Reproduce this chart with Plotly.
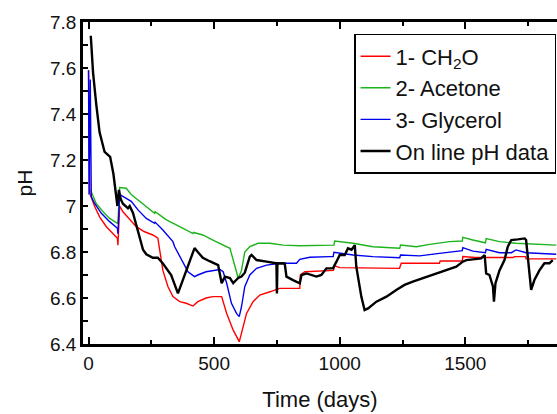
import plotly.graph_objects as go

# ---- data ----
black_days = [9, 18, 31, 44, 64, 86, 99, 112, 115, 121, 128, 137, 157, 164, 177, 217, 230, 256, 276, 296,
              316, 329, 356, 422, 435, 455, 482, 516, 530, 543, 563, 576, 596, 609, 622, 642, 649, 669, 709,
              748, 750, 752, 781, 788, 814, 841, 848, 868, 907, 927, 947, 973, 987, 1000, 1020, 1033, 1047,
              1060, 1066, 1073, 1086, 1099, 1113, 1146, 1186, 1225, 1258, 1291, 1331, 1371, 1411, 1437, 1464,
              1490, 1504, 1530, 1563, 1577, 1583, 1596, 1610, 1614, 1620, 1636, 1656, 1669, 1683, 1709, 1736,
              1742, 1753, 1762, 1775, 1795, 1815, 1835, 1848]
black_ph = [7.74, 7.58, 7.44, 7.32, 7.235, 7.214, 7.14, 7.04, 7.0, 7.07, 7.03, 7.01, 6.99, 7.0, 6.97, 6.81,
            6.79, 6.775, 6.775, 6.75, 6.72, 6.70, 6.62, 6.817, 6.80, 6.775, 6.76, 6.743, 6.664, 6.693, 6.687,
            6.665, 6.687, 6.693, 6.71, 6.78, 6.787, 6.765, 6.758, 6.751, 6.62, 6.751, 6.75, 6.693, 6.678,
            6.664, 6.70, 6.707, 6.693, 6.70, 6.729, 6.729, 6.758, 6.787, 6.787, 6.816, 6.81, 6.83, 6.736,
            6.693, 6.606, 6.548, 6.555, 6.584, 6.606, 6.635, 6.657, 6.671, 6.686, 6.70, 6.714, 6.725, 6.736,
            6.758, 6.765, 6.768, 6.772, 6.787, 6.707, 6.70, 6.65, 6.584, 6.664, 6.72, 6.765, 6.823, 6.852,
            6.855, 6.859, 6.852, 6.736, 6.635, 6.678, 6.72, 6.751, 6.751, 6.765]

red_days = [0, 2, 5, 25, 44, 71, 97, 115, 117, 124, 137, 164, 190, 223, 256, 276, 283, 296, 316, 336, 363,
            389, 416, 420, 435, 468, 495, 530, 550, 576, 600, 609, 629, 655, 682, 722, 761, 841, 843, 861,
            975, 980, 1000, 1238, 1245, 1397, 1400, 1488, 1490, 1540, 1690, 1696, 1740, 1742, 1862]
red_ph = [7.59, 7.06, 7.055, 6.997, 6.953, 6.91, 6.88, 6.86, 6.83, 7.0, 6.975, 6.94, 6.91, 6.888, 6.874, 6.86,
          6.81, 6.72, 6.65, 6.606, 6.584, 6.577, 6.565, 6.57, 6.584, 6.60, 6.606, 6.606, 6.533, 6.46, 6.41,
          6.447, 6.533, 6.584, 6.613, 6.627, 6.642, 6.642, 6.70, 6.714, 6.72, 6.74, 6.732, 6.729, 6.751,
          6.751, 6.761, 6.761, 6.78, 6.776, 6.776, 6.78, 6.78, 6.77, 6.77]

green_days = [8, 31, 58, 84, 115, 117, 124, 150, 170, 204, 230, 263, 265, 310, 363, 416, 418, 455, 495, 550,
              563, 576, 596, 609, 622, 642, 675, 722, 775, 841, 960, 977, 980, 1053, 1132, 1239, 1242, 1305,
              1358, 1437, 1488, 1490, 1530, 1580, 1583, 1636, 1702, 1782, 1862]
green_ph = [7.07, 7.01, 6.975, 6.946, 6.925, 6.925, 7.08, 7.077, 7.05, 7.02, 6.997, 6.968, 6.975, 6.94, 6.91,
            6.88, 6.885, 6.874, 6.852, 6.823, 6.816, 6.765, 6.686, 6.72, 6.80, 6.823, 6.838, 6.838, 6.83,
            6.827, 6.83, 6.83, 6.848, 6.838, 6.823, 6.816, 6.83, 6.823, 6.833, 6.845, 6.848, 6.864, 6.852,
            6.84, 6.858, 6.845, 6.838, 6.833, 6.83]

blue_days = [0, 2, 7, 11, 25, 51, 84, 115, 117, 124, 150, 170, 197, 230, 263, 265, 296, 336, 343, 376, 396,
             422, 435, 468, 495, 523, 536, 550, 569, 589, 600, 609, 622, 642, 669, 709, 761, 828, 841, 881,
             960, 974, 977, 1053, 1132, 1239, 1242, 1318, 1397, 1437, 1488, 1490, 1530, 1580, 1583, 1636,
             1683, 1702, 1742, 1862]
blue_ph = [7.59, 7.05, 7.55, 7.04, 7.01, 6.968, 6.932, 6.903, 6.88, 7.05, 7.033, 7.02, 6.983, 6.946, 6.925,
           6.93, 6.896, 6.845, 6.823, 6.751, 6.714, 6.693, 6.70, 6.714, 6.72, 6.724, 6.714, 6.664, 6.577,
           6.533, 6.519, 6.562, 6.649, 6.70, 6.729, 6.743, 6.751, 6.751, 6.768, 6.777, 6.78, 6.78, 6.799,
           6.787, 6.78, 6.775, 6.787, 6.783, 6.794, 6.80, 6.806, 6.819, 6.804, 6.797, 6.812, 6.797, 6.797,
           6.809, 6.797, 6.79]

series_names = ["1- CH<sub>2</sub>O", "2- Acetone", "3- Glycerol", "On line pH data"]
y_tickvals = [6.4, 6.6, 6.8, 7.0, 7.2, 7.4, 7.6, 7.8]
y_ticktext = ["6.4", "6.6", "6.8", "7", "7.2", "7.4", "7.6", "7.8"]
x_tickvals = [0, 500, 1000, 1500]

FONT = "Liberation Sans, Arial, sans-serif"

fig = go.Figure()
fig.add_trace(go.Scatter(x=red_days, y=red_ph, mode="lines", name=series_names[0],
                         line=dict(color="#ff0000", width=1.4)))
fig.add_trace(go.Scatter(x=green_days, y=green_ph, mode="lines", name=series_names[1],
                         line=dict(color="#1db41d", width=1.4)))
fig.add_trace(go.Scatter(x=blue_days, y=blue_ph, mode="lines", name=series_names[2],
                         line=dict(color="#0000ee", width=1.4)))
fig.add_trace(go.Scatter(x=black_days, y=black_ph, mode="lines", name=series_names[3],
                         line=dict(color="#000000", width=2.4)))

fig.update_layout(
    width=557, height=414,
    margin=dict(l=83, r=0, t=22, b=70),
    paper_bgcolor="white", plot_bgcolor="white",
    font=dict(family=FONT, color="#111111", size=19),
    showlegend=True,
    legend=dict(x=0.998, y=0.963, xanchor="right", yanchor="top",
                bgcolor="white", bordercolor="black", borderwidth=1.5,
                font=dict(family=FONT, size=22, color="#111111"),
                tracegroupgap=0, itemwidth=30),
    xaxis=dict(range=[-22, 1865], tickvals=x_tickvals, ticks="inside", ticklen=7, tickwidth=2,
               tickcolor="black", showline=True, linecolor="black", linewidth=2.5, mirror="ticks",
               showgrid=False, zeroline=False,
               minor=dict(dtick=250, tick0=0, ticks="inside", ticklen=4, tickwidth=2, tickcolor="black"),
               title=dict(text="Time (days)", font=dict(size=22, family=FONT), standoff=20),
               tickfont=dict(size=19, family=FONT)),
    yaxis=dict(range=[6.4, 7.8], tickvals=y_tickvals, ticktext=y_ticktext, ticks="inside", ticklen=5,
               tickwidth=2, tickcolor="black", showline=True, linecolor="black", linewidth=2.5,
               mirror=False, showgrid=False, zeroline=False,
               minor=dict(dtick=0.1, tick0=6.4, ticks="inside", ticklen=5, tickwidth=2, tickcolor="black"),
               title=dict(text="pH", font=dict(size=21, family=FONT), standoff=12),
               tickfont=dict(size=19, family=FONT)),
)

fig.write_html("out.html")
